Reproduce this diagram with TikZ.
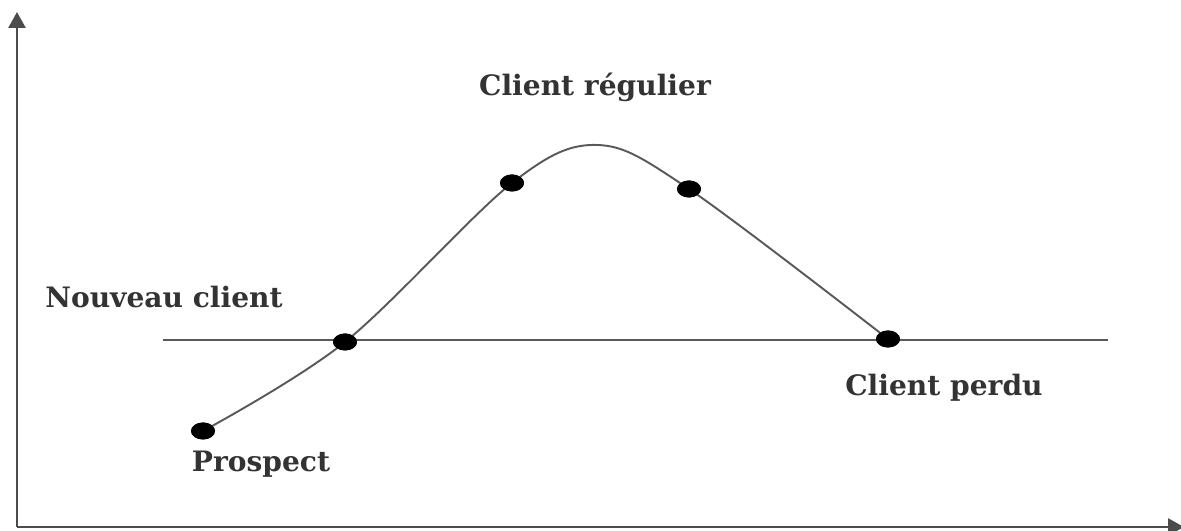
\documentclass[tikz,border=0pt]{standalone}
\usepackage{fontspec}
\setmainfont{DejaVu Serif}
\usepackage{xcolor}
\usetikzlibrary{arrows.meta,positioning,shapes.geometric}

\begin{document}
\begin{tikzpicture}[
    x=0.02cm,y=0.02cm,
    axis/.style={-{Triangle[length=3.2mm,width=3.4mm]}, draw=black!70, line width=1.5pt},
    level/.style={draw=black!65, line width=1.3pt},
    curve/.style={draw=black!65, line width=1.1pt},
    stage/.style={ellipse, fill=black, draw=none, minimum width=0.48cm, minimum height=0.34cm, inner sep=0pt},
    lbl/.style={font=\fontsize{16}{18}\selectfont\bfseries, text=black!80, inner sep=0pt}
  ]
    \useasboundingbox (0,0) rectangle (1181,531);

    % axes
    \coordinate (origin) at (17,4);
    \coordinate (ytop) at (17,519);
    \coordinate (xend) at (1184,4);
    \draw[axis] (origin) -- (ytop);
    \draw[axis] (origin) -- (xend);

    % threshold line
    \coordinate (lstart) at (163,191);
    \coordinate (lend) at (1108,191);
    \draw[level] (lstart) -- (lend);

    % stages
    \node[stage] (prospect) at (203,100) {};
    \node[stage] (nouveau) at (345,189) {};
    \node[stage] (regA) at (512,348) {};
    \coordinate (top) at (598,386);
    \node[stage] (regB) at (689,342) {};
    \node[stage] (perdu) at (888,192) {};

    \draw[curve] plot[smooth, tension=0.55] coordinates {(prospect) (nouveau) (regA) (top) (regB) (perdu)};
    \node[stage] at (prospect) {};
    \node[stage] at (nouveau) {};
    \node[stage] at (regA) {};
    \node[stage] at (regB) {};
    \node[stage] at (perdu) {};

    \node[lbl] (tprospect) at (261,67) {Prospect};
    \node[lbl, anchor=west] (tnouveau) at (45,234) {Nouveau client};
    \node[lbl] (tregulier) at (595,444) {Client régulier};
    \node[lbl] (tperdu) at (944,143) {Client perdu};
\end{tikzpicture}
\end{document}
